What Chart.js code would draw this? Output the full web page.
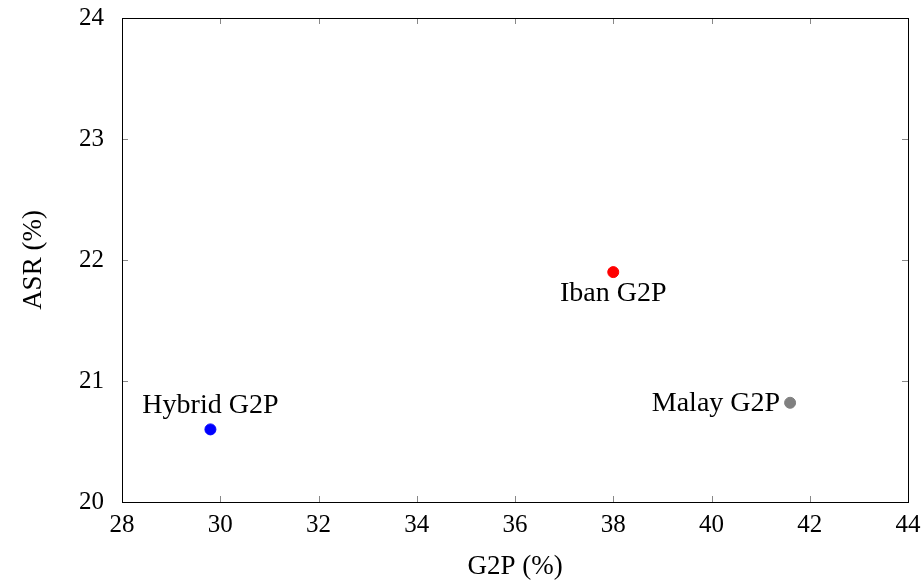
<!DOCTYPE html>
<html>
<head>
<meta charset="utf-8">
<script src="https://cdn.jsdelivr.net/npm/chart.js@4.4.1/dist/chart.umd.min.js"></script>
<style>
  html, body { margin: 0; padding: 0; background: #fff; }
  #wrap { width: 923px; height: 583px; }
</style>
</head>
<body>
<div id="wrap"><canvas id="chart"></canvas></div>
<script>
const labels = ['Hybrid G2P', 'Iban G2P', 'Malay G2P'];
const g2p = [29.8, 38.0, 41.6];
const asr = [20.6, 21.9, 20.82];
const colors = ['#0000ff', '#ff0000', '#808080'];
const labelPos = ['above', 'below', 'left'];
const xTicks = [28, 30, 32, 34, 36, 38, 40, 42, 44];
const yTicks = [20, 21, 22, 23, 24];

const FONT = '"Liberation Serif", "DejaVu Serif", serif';

// frame, inward ticks and point labels like pgfplots
const framePlugin = {
    id: 'frame',
    afterDatasetsDraw(chart) {
        const ctx = chart.ctx;
        const a = chart.chartArea;
        const xs = chart.scales.x, ys = chart.scales.y;
        ctx.save();
        ctx.strokeStyle = '#888';
        ctx.lineWidth = 1;
        const t = 6;
        xTicks.forEach(v => {
            const px = Math.round(xs.getPixelForValue(v)) + 0.5;
            ctx.beginPath();
            ctx.moveTo(px, a.bottom); ctx.lineTo(px, a.bottom - t);
            ctx.moveTo(px, a.top); ctx.lineTo(px, a.top + t);
            ctx.stroke();
        });
        yTicks.forEach(v => {
            const py = Math.round(ys.getPixelForValue(v)) + 0.5;
            ctx.beginPath();
            ctx.moveTo(a.left, py); ctx.lineTo(a.left + t, py);
            ctx.moveTo(a.right, py); ctx.lineTo(a.right - t, py);
            ctx.stroke();
        });
        ctx.strokeStyle = '#000';
        ctx.strokeRect(Math.round(a.left) + 0.5, Math.round(a.top) + 0.5,
            Math.round(a.right - a.left), Math.round(a.bottom - a.top));

        ctx.fillStyle = '#000';
        ctx.font = '28px ' + FONT;
        const meta = chart.getDatasetMeta(0);
        meta.data.forEach((pt, i) => {
            const pos = labelPos[i];
            if (pos === 'above') {
                ctx.textAlign = 'center'; ctx.textBaseline = 'bottom';
                ctx.fillText(labels[i], pt.x, pt.y - 10);
            } else if (pos === 'below') {
                ctx.textAlign = 'center'; ctx.textBaseline = 'top';
                ctx.fillText(labels[i], pt.x, pt.y + 8);
            } else {
                ctx.textAlign = 'right'; ctx.textBaseline = 'middle';
                ctx.fillText(labels[i], pt.x - 10, pt.y + 1);
            }
        });
        ctx.restore();
    }
};

new Chart(document.getElementById('chart'), {
    type: 'scatter',
    data: {
        datasets: [{
            data: g2p.map((x, i) => ({ x: x, y: asr[i] })),
            pointBackgroundColor: colors,
            pointBorderColor: colors,
            pointRadius: 5.5,
            pointHoverRadius: 5.5
        }]
    },
    options: {
        responsive: true,
        maintainAspectRatio: false,
        animation: false,
        layout: { padding: { top: 18, right: 15, left: 0, bottom: 0 } },
        plugins: { legend: { display: false }, tooltip: { enabled: false } },
        scales: {
            x: {
                type: 'linear',
                min: 28, max: 44,
                afterBuildTicks: s => { s.ticks = xTicks.map(v => ({ value: v })); },
                afterFit: s => { s.height = 81; s.paddingLeft = 0; s.paddingRight = 0; },
                grid: { display: false },
                border: { display: false },
                ticks: { color: '#000', font: { family: FONT, size: 25 }, padding: 0 },
                title: { display: true, text: 'G2P (%)', color: '#000', font: { family: FONT, size: 27 }, padding: { top: 6, bottom: 0 } }
            },
            y: {
                type: 'linear',
                min: 20, max: 24,
                afterBuildTicks: s => { s.ticks = yTicks.map(v => ({ value: v })); },
                afterFit: s => { s.width = 122; s.paddingTop = 0; s.paddingBottom = 0; },
                grid: { display: false },
                border: { display: false },
                ticks: { color: '#000', font: { family: FONT, size: 25 }, padding: 10 },
                title: { display: true, text: 'ASR (%)', color: '#000', font: { family: FONT, size: 27 }, padding: { top: 18, bottom: 0 } }
            }
        }
    },
    plugins: [framePlugin]
});
</script>
</body>
</html>
